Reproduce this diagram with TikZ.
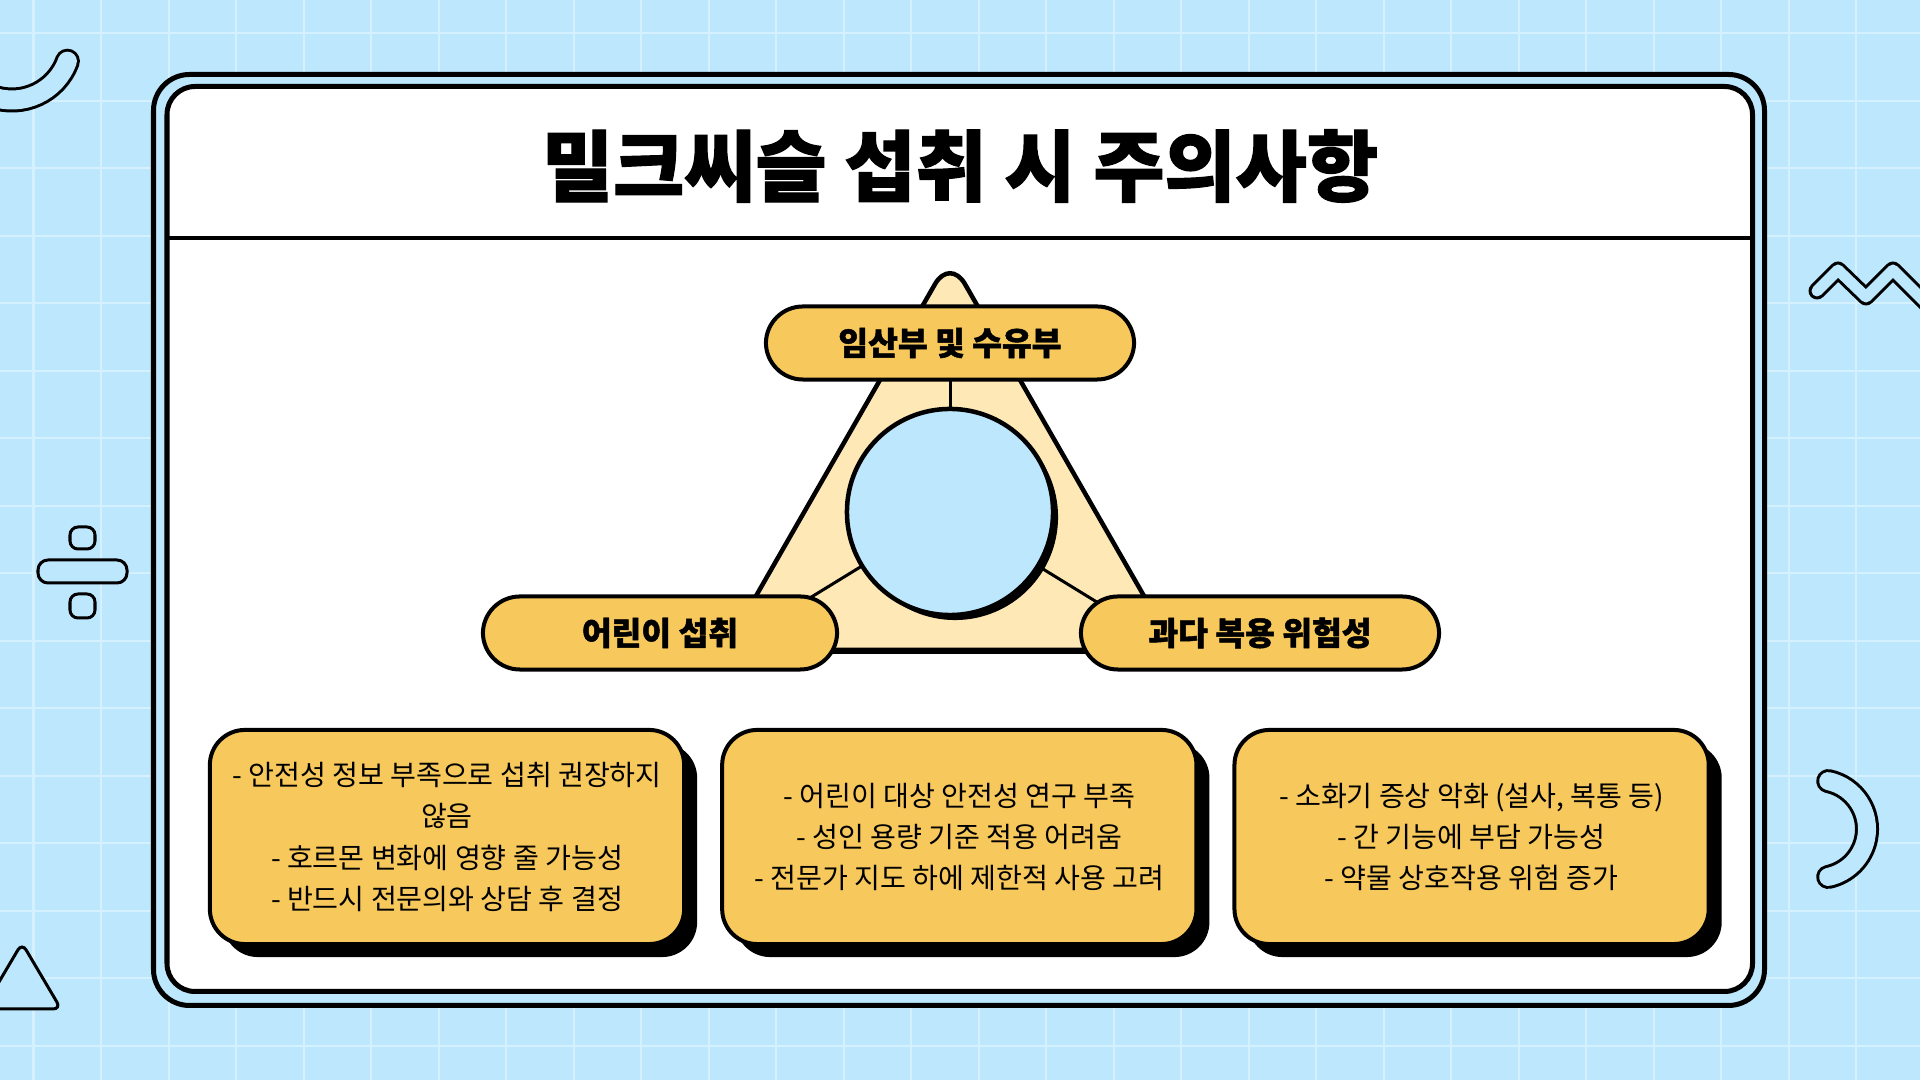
\documentclass[tikz,border=0pt]{standalone}
\usepackage{fontspec}
\usepackage{tikz}
\usetikzlibrary{positioning,shadows}
\newfontfamily\krfont{Noto Sans CJK KR}
\newfontfamily\krheavy[BoldFeatures={FakeBold=1.5}]{Noto Sans CJK KR}
\definecolor{skyblue}{HTML}{BCE7FD}
\definecolor{gridblue}{HTML}{D5F0FE}
\definecolor{pillyellow}{HTML}{F7C85C}
\definecolor{cream}{HTML}{FDE8B6}
\tikzset{
  gridline/.style={gridblue, line width=0.02cm},
  band/.style={draw=black, line width=0.03cm, double=skyblue, line cap=round, line join=round},
  deco/.style={draw=black, line width=0.03cm, fill=skyblue},
  pill/.style={draw, line width=0.04cm, fill=pillyellow, rounded corners=0.37cm,
    minimum height=0.73cm, inner sep=0pt, font=\krheavy\bfseries\fontsize{9.2}{11}\selectfont},
  notebox/.style={draw, line width=0.04cm, fill=pillyellow, rounded corners=0.35cm,
    minimum width=4.74cm, minimum height=2.14cm, align=center, inner sep=0pt,
    font=\krfont\fontsize{8}{11.7}\selectfont,
    drop shadow={shadow xshift=0.13cm, shadow yshift=-0.13cm, fill=black, opacity=1}},
  hubstyle/.style={circle, draw, line width=0.045cm, fill=skyblue, minimum size=2.06cm,
    drop shadow={shadow xshift=0.05cm, shadow yshift=-0.05cm, fill=black, opacity=1}},
  spoke/.style={line width=0.03cm},
}
\begin{document}
\begin{tikzpicture}[x=0.01cm,y=-0.01cm]
  \clip (0,0) rectangle (1920,1080);
  \fill[skyblue] (0,0) rectangle (1920,1080);
  \foreach \k in {0,...,28}
    \draw[gridline] (33.5+67.5*\k,0) -- (33.5+67.5*\k,1080);
  \foreach \k in {0,...,15}
    \draw[gridline] (0,33.5+67.5*\k) -- (1920,33.5+67.5*\k);

  \draw[band, double distance=0.19cm] (67.4,61.2) arc[start angle=20, end angle=150, radius=59];
  \draw[band, double distance=0.18cm] (1828.2,781.1) arc[start angle=-78, end angle=78, radius=49];
  \draw[band, double distance=0.11cm] (1817,291) -- (1838,270) -- (1866,297) -- (1893,270) -- (1920,297) -- (1935,312);
  \draw[deco, rounded corners=0.1cm] (38,560) rectangle (127,583);
  \draw[deco, rounded corners=0.08cm] (70,527) rectangle (95,549);
  \draw[deco, rounded corners=0.08cm] (70,594) rectangle (95,618);
  \draw[deco, rounded corners=0.08cm] (22,943) -- (61,1009) -- (-17,1009) -- cycle;

  \draw[line width=0.05cm, fill=skyblue, rounded corners=0.36cm] (153.5,74.5) rectangle (1764.5,1005.5);
  \draw[line width=0.05cm, fill=white, rounded corners=0.28cm] (167,86.5) rectangle (1752.5,991.5);
  \draw[line width=0.035cm] (167,238) -- (1752.5,238);
  \node[font=\krheavy\bfseries\fontsize{22}{26}\selectfont] (title) at (960,166) {밀크씨슬 섭취 시 주의사항};

  \coordinate (apex) at (950,258);
  \coordinate (lcorner) at (725,650);
  \coordinate (rcorner) at (1175,650);
  \coordinate (hubc) at (950,512);
  \coordinate (topjoin) at (950,343);
  \fill[rounded corners=0.3cm] ([xshift=0.02cm,yshift=-0.04cm]apex) -- ([xshift=0.02cm,yshift=-0.04cm]lcorner) -- ([xshift=0.02cm,yshift=-0.04cm]rcorner) -- cycle;
  \draw[line width=0.045cm, fill=cream, rounded corners=0.3cm] (apex) -- (lcorner) -- (rcorner) -- cycle;
  \draw[spoke] (hubc) -- (topjoin);
  \draw[spoke] (hubc) -- (lcorner);
  \draw[spoke] (hubc) -- (rcorner);
  \node[hubstyle] (hub) at (hubc) {};

  \node[pill, minimum width=3.68cm] (pregnant) at (topjoin) {임산부 및 수유부};
  \node[pill, minimum width=3.54cm] (children) at (660,633) {어린이 섭취};
  \node[pill, minimum width=3.58cm] (overdose) at (1260,633) {과다 복용 위험성};

  \node[notebox] (note1) at (447,837) {- 안전성 정보 부족으로 섭취 권장하지\\않음\\- 호르몬 변화에 영향 줄 가능성\\- 반드시 전문의와 상담 후 결정};
  \node[notebox, right=0.34cm of note1] (note2) {- 어린이 대상 안전성 연구 부족\\- 성인 용량 기준 적용 어려움\\- 전문가 지도 하에 제한적 사용 고려};
  \node[notebox, right=0.34cm of note2] (note3) {- 소화기 증상 악화 (설사, 복통 등)\\- 간 기능에 부담 가능성\\- 약물 상호작용 위험 증가};
\end{tikzpicture}
\end{document}
